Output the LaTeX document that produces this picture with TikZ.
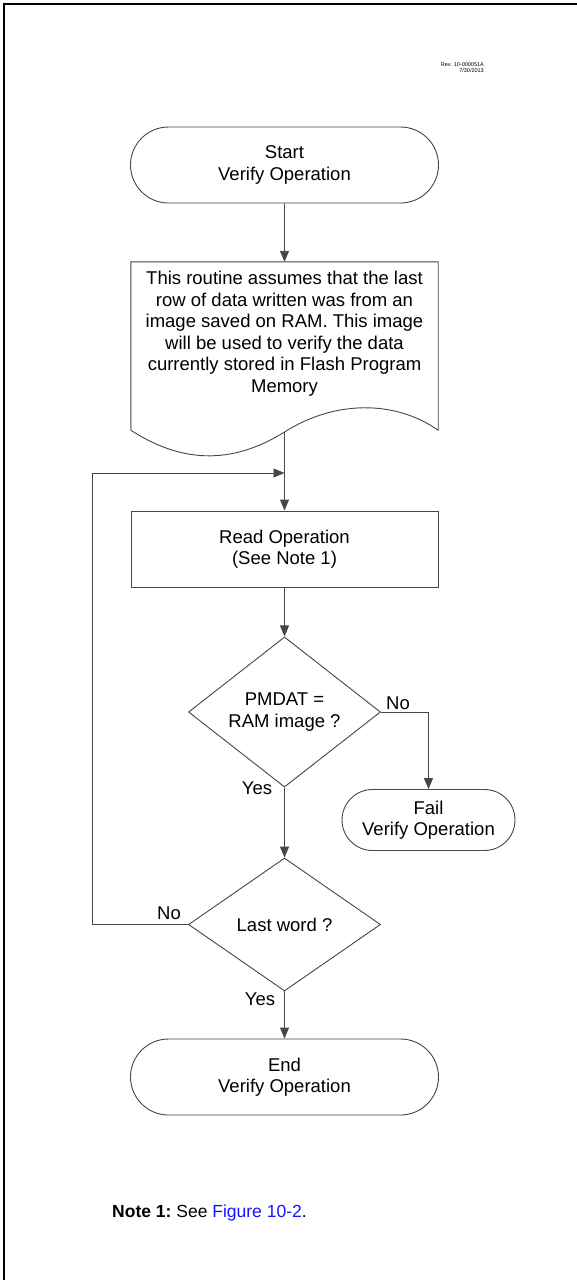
\documentclass[tikz,border=0pt]{standalone}
\usepackage{fontspec}
\setmainfont{Liberation Sans}
\usetikzlibrary{shapes.misc,shapes.geometric,arrows.meta}
\definecolor{linec}{RGB}{70,70,70}
\definecolor{linkblue}{RGB}{20,20,255}
\newcommand{\fcfont}{\fontsize{18.5}{21.5}\selectfont}
\begin{document}
\begin{tikzpicture}[x=1pt,y=-1pt,
  term/.style={draw=linec, line width=0.9pt, rounded rectangle, align=center, font=\fcfont, inner sep=0pt},
  procbox/.style={draw=linec, line width=0.9pt, rectangle, align=center, font=\fcfont, minimum width=307pt, minimum height=76pt, inner sep=0pt},
  decide/.style={draw=linec, line width=0.9pt, diamond, align=center, font=\fcfont, inner sep=0pt, minimum width=192pt, minimum height=134pt},
  txt/.style={font=\fcfont, align=center, inner sep=0pt},
  lbl/.style={font=\fcfont, inner sep=0pt},
  arr/.style={draw=linec, line width=0.9pt, -{Triangle[length=11pt,width=9pt]}},
  conn/.style={draw=linec, line width=0.9pt},
  frameline/.style={draw=black, line width=2.2pt}]
\useasboundingbox (0,0) rectangle (577,1280);
\fill[white] (0,0) rectangle (577,1280);
% frame (only top and left visible)
\draw[frameline] (4,1282) -- (4,4) -- (579,4);
% revision text
\node[anchor=north east, align=right, font=\fontsize{5.5}{6.5}\selectfont, inner sep=0pt] (rev) at (484,62) {Rev. 10-000051A\\7/30/2013};
% nodes
\node[term, minimum width=308pt, minimum height=76pt] (start) at (284.5,165) {Start\\Verify Operation};
\node[draw=none, minimum width=307pt, minimum height=168pt, inner sep=0pt] (doc) at (284.5,346) {};
\node[txt] (doctext) at (284.5,333.5) {This routine assumes that the last\\row of data written was from an\\image saved on RAM. This image\\will be used to verify the data\\currently stored in Flash Program\\Memory};
\draw[conn] (doc.south west) -- (doc.north west) -- (doc.north east) -- (doc.south east)
  .. controls (395,400) and (335,400) .. (284.5,432)
  .. controls (230,466) and (180,462) .. (doc.south west);
\coordinate (docb) at (284.5,432);
\coordinate (join) at (284.5,473);
\node[procbox] (read) at (284.5,549) {Read Operation\\(See Note 1)};
\node[decide] (d1) at (284.5,712) {PMDAT =\\RAM image ?};
\node[term, minimum width=173pt, minimum height=61pt] (fail) at (428.5,820) {Fail\\Verify Operation};
\node[decide, minimum height=133pt] (d2) at (284.5,924.5) {Last word ?};
\node[term, minimum width=308pt, minimum height=76pt] (end) at (284.5,1077) {End\\Verify Operation};
% connectors
\draw[arr] (start) -- (doc);
\draw[arr] (docb) -- (read);
\draw[arr] (read) -- (d1);
\draw[arr] (d1.east) -| (fail.north);
\draw[arr] (d1.south) -- (d2.north);
\draw[arr] (d2.south) -- (end.north);
\draw[arr] (d2.west) -- ++(-96,0) |- (join);
% labels
\node[lbl] (no1) at (398,703) {No};
\node[lbl] (yes1) at (257,788) {Yes};
\node[lbl] (no2) at (169,913) {No};
\node[lbl] (yes2) at (260,999) {Yes};
% note
\node[anchor=west, inner sep=0pt, font=\fontsize{17.5}{20}\selectfont] (note) at (112,1213) {\textbf{Note 1:}\ See \textcolor{linkblue}{Figure 10-2}.};
\end{tikzpicture}
\end{document}
